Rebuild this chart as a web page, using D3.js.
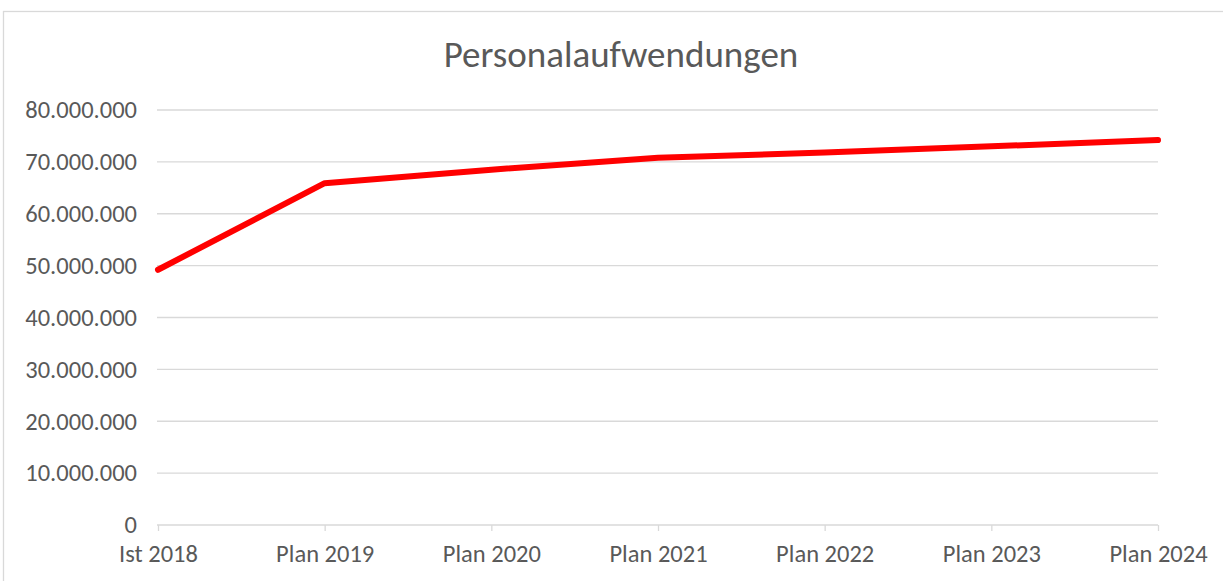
<!DOCTYPE html>
<html>
<head>
<meta charset="utf-8">
<script src="https://cdn.jsdelivr.net/npm/d3@7/dist/d3.min.js"></script>
<style>
  html, body { margin: 0; padding: 0; background: #fff; }
  svg { display: block; }
  text { font-family: Carlito, Calibri, "Open Sans", sans-serif; fill: #595959; }
</style>
</head>
<body>
<svg id="chart" width="1223" height="581"></svg>
<script>
const title = "Personalaufwendungen";
const categories = ["Ist 2018", "Plan 2019", "Plan 2020", "Plan 2021", "Plan 2022", "Plan 2023", "Plan 2024"];
const values = [49200000, 65900000, 68500000, 70800000, 71800000, 73000000, 74200000];
const yTicks = [0, 10000000, 20000000, 30000000, 40000000, 50000000, 60000000, 70000000, 80000000];

const svg = d3.select("#chart");
const m = { left: 158, right: 1158, top: 110, bottom: 525 };

// outer chart border
svg.append("rect")
  .attr("x", 3.5).attr("y", 11.5)
  .attr("width", 1230).attr("height", 600)
  .attr("fill", "none").attr("stroke", "#d9d9d9").attr("stroke-width", 1.3);

const x = d3.scalePoint().domain(categories).range([m.left, m.right]);
const y = d3.scaleLinear().domain([0, 80000000]).range([m.bottom, m.top]);

const fmt = v => d3.format(",")(v).replace(/,/g, ".");
const FONT = 'Carlito, Calibri, "Open Sans", sans-serif';

// gridlines
svg.append("g")
  .selectAll("line")
  .data(yTicks.filter(d => d > 0))
  .join("line")
  .attr("x1", m.left - 1).attr("x2", m.right)
  .attr("y1", d => y(d)).attr("y2", d => y(d))
  .attr("stroke", "#d9d9d9").attr("stroke-width", 1.3);

// y axis labels
const yAxis = d3.axisLeft(y).tickValues(yTicks).tickFormat(fmt).tickSize(0).tickPadding(21);
const gy = svg.append("g").attr("transform", `translate(${m.left},0)`).call(yAxis);
gy.select(".domain").remove();
gy.selectAll("text").attr("font-size", 24.5).attr("fill", "#595959").style("font-family", FONT);

// x axis
const xAxis = d3.axisBottom(x).tickSize(6).tickSizeOuter(0).tickPadding(14);
const gx = svg.append("g").attr("transform", `translate(0,${m.bottom})`).call(xAxis);
gx.select(".domain").attr("stroke", "#d9d9d9").attr("stroke-width", 1.3)
  .attr("d", `M${m.left - 1},0H${m.right}`);
gx.selectAll(".tick line").attr("stroke", "#d9d9d9").attr("stroke-width", 1.3);
gx.selectAll("text").attr("font-size", 24.5).attr("fill", "#595959").style("font-family", FONT);

// line
const line = d3.line().x((d, i) => x(categories[i])).y(d => y(d));
svg.append("path")
  .datum(values)
  .attr("d", line)
  .attr("fill", "none")
  .attr("stroke", "#ff0000")
  .attr("stroke-width", 6)
  .attr("stroke-linejoin", "round")
  .attr("stroke-linecap", "round");

// title
svg.append("text")
  .attr("x", 621).attr("y", 67)
  .attr("text-anchor", "middle")
  .attr("font-size", 37)
  .style("font-family", FONT)
  .text(title);
</script>
</body>
</html>
